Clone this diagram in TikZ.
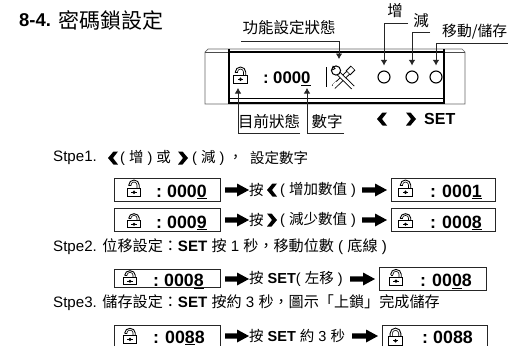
\documentclass[tikz,border=0pt]{standalone}
\usepackage{fontspec}
\usetikzlibrary{arrows.meta}
\setmainfont{Liberation Sans}
\newfontfamily\cjk{Noto Sans CJK TC}
\newcommand{\Z}[1]{{\cjk #1}}
\begin{document}
\begin{tikzpicture}[x=1pt,y=-1pt,line cap=butt,
  lead/.style={draw=black!85,line width=.8pt},
  leadarrow/.style={lead,-{Latex[length=5.5pt,width=6.5pt]}},
  txt/.style={inner sep=0pt,anchor=west,font=\fontsize{14.5}{16}\selectfont},
  steptxt/.style={inner sep=0pt,anchor=west,font=\fontsize{15.1}{17}\selectfont},
  lab/.style={inner sep=0pt,font=\fontsize{15.5}{17}\selectfont\cjk},
  digit/.style={inner sep=0pt,anchor=base west,font=\fontsize{17.8}{18}\selectfont\bfseries},
  paneldigit/.style={inner sep=0pt,anchor=base west,font=\fontsize{16.8}{17}\selectfont\bfseries},
  dbox/.style={draw=black!85,line width=.8pt},
  pics/chevL/.style={code={\fill[black] (-5,0) -- (.5,-6.5) -- (5,-6.5) -- (0,0) -- (5,6.5) -- (.5,6.5) -- cycle;}},
  pics/chevR/.style={code={\fill[black] (5,0) -- (-.5,-6.5) -- (-5,-6.5) -- (0,0) -- (-5,6.5) -- (-.5,6.5) -- cycle;}},
  pics/blockarrow/.style={code={\fill[black] (0,-2.7) -- (#1-12,-2.7) -- (#1-12,-6.5) -- (#1,0) -- (#1-12,6.5) -- (#1-12,2.7) -- (0,2.7) -- cycle;}},
  pics/openlock/.style={code={
    \draw[line width=.9pt] (-6.8,0) rectangle (6.8,8.6);
    \draw[line width=.9pt] (-5.2,-2.2) -- (-5.2,-3) arc (180:360:5.2 and 5) -- (5.2,0);
    \draw[line width=.6pt] (-3,-2.2) -- (-3,-3) arc (180:360:3 and 3) -- (3,0);
    \draw[line width=.7pt] (-5.2,-2.2) -- (-3,-2.2);
    \fill (-2.8,3.9) rectangle (2.8,4.7); \fill (0,2.4) -- (1.6,4.3) -- (0,6.2) -- (-1.6,4.3) -- cycle;
  }},
  pics/shutlock/.style={code={
    \draw[line width=.9pt] (-7.2,0) rectangle (7.2,8.6);
    \draw[line width=.9pt] (-5.4,0) -- (-5.4,-3) arc (180:360:5.4 and 5.4) -- (5.4,0);
    \draw[line width=.6pt] (-3.2,0) -- (-3.2,-3) arc (180:360:3.2 and 3.2) -- (3.2,0);
    \fill (-2.8,3.9) rectangle (2.8,4.7); \fill (0,2.4) -- (1.6,4.3) -- (0,6.2) -- (-1.6,4.3) -- cycle;
  }},
]
\useasboundingbox (0,0) rectangle (508,346);
\fill[white] (0,0) rectangle (508,346);

% title
\node[inner sep=0pt,anchor=west,font=\fontsize{18.5}{20}\selectfont\bfseries] (title) at (19,20) {8-4.};
\node[inner sep=0pt,anchor=west,font=\fontsize{21}{22}\selectfont\cjk] (titlecjk) at (58,20) {密碼鎖設定};

% panel
\draw[line width=.7pt,black!60] (205,104) -- (205,52) -- (208,49) -- (462,49) -- (465,52) -- (465,104) -- cycle;
\draw[line width=.6pt,black!70] (205,52) -- (465,52);
\draw[line width=1.2pt] (229,49) -- (229,104);
\draw[line width=1.2pt] (444,49) -- (444,104);
\draw[line width=1.3pt] (229,52) -- (444,52);
\draw[line width=1.5pt] (229,98.5) -- (444,98.5);
\draw[line width=1.2pt] (229,103) -- (444,103);

\pic at (240.5,75) {openlock};
\node[paneldigit] (colon0) at (263,83.5) {:};
\node[paneldigit] (num0) at (273,83.5) {000\underline{0}};
\draw[line width=1.3pt] (326.5,67) -- (326.5,87);
% tools icon
\begin{scope}[shift={(343,77)}]
  \draw[line width=4.8pt] (9,-8) -- (-9.5,10);
  \draw[white,line width=3pt] (9.6,-8.6) -- (-10,10.5);
  \draw[line width=6.4pt] (5,-4) -- (10,-9);
  \draw[white,line width=4.4pt] (5.5,-4.5) -- (9.5,-8.5);
  \draw[line width=4.6pt] (-6,-5) -- (10,10.5);
  \draw[white,line width=2.8pt] (-6.5,-5.5) -- (10.5,11);
  \draw[line width=1pt,fill=white] (-7,-6.5) circle (4.6);
  \fill[white,rotate=45] (-12.5,-1.8) rectangle (-8,1.8);
  \draw[line width=.9pt] (-10.3,-11) -- (-8,-8.5) -- (-10.8,-7);
\end{scope}
\node[draw,circle,line width=1.1pt,minimum size=12pt,inner sep=0pt] (b1) at (384,77) {};
\node[draw,circle,line width=1.1pt,minimum size=12pt,inner sep=0pt] (b2) at (412,77) {};
\node[draw,circle,line width=1.1pt,minimum size=12pt,inner sep=0pt] (b3) at (436,77) {};

% top labels
\node[lab] (lfunc) at (289,28) {功能設定狀態};
\node[lab] (linc) at (395,11) {增};
\node[lab] (ldec) at (421,21) {減};
\node[lab,anchor=west,font=\fontsize{14.8}{17}\selectfont\cjk] (lmove) at (442,32) {移動/儲存};
\coordinate (funcA) at (241,41); \coordinate (funcB) at (339,41); \coordinate (funcT) at (339,59);
\draw[lead] (funcA) -- (funcB);
\draw[leadarrow] (funcB) -- (funcT);
\coordinate (incA) at (408,23); \coordinate (decA) at (430,32); \coordinate (movA) at (508,43);
\draw[leadarrow] (incA) -| ([yshift=5pt]b1.north);
\draw[leadarrow] (decA) -| ([yshift=5pt]b2.north);
\draw[leadarrow] (movA) -| ([yshift=5pt]b3.north);

% bottom labels
\node[lab] (lstate) at (269,122) {目前狀態};
\node[lab] (lnum) at (327,122) {數字};
\coordinate (stA) at (300,133); \coordinate (stT) at (238,88);
\coordinate (nuA) at (344,133); \coordinate (nuT) at (307,88);
\draw[leadarrow] (stA) -| (stT);
\draw[leadarrow] (nuA) -| (nuT);
\pic at (382,119) {chevL};
\pic at (411,119) {chevR};
\node[txt,font=\fontsize{16}{18}\selectfont\bfseries] (set) at (424,119) {SET};

% step 1
\node[steptxt] (s1) at (53,158) {Stpe1.};
\pic at (113,158) {chevL};
\node[txt] (s1a) at (120,158) {( \Z{增} ) \Z{或}};
\pic at (183,158) {chevR};
\node[txt] (s1b) at (192,158) {( \Z{減} ) \Z{，}};
\node[txt] (s1c) at (250,158) {\Z{設定數字}};

% row 1
\draw[dbox] (114,178) rectangle (220,201);
\pic at (134,188) {openlock};
\node[digit] (c1) at (156,197) {:};
\node[digit] (n1) at (167,197) {000\underline{0}};
\pic at (225,190) {blockarrow=24};
\node[txt] (t1a) at (249,190) {\Z{按}};
\pic at (272,190) {chevL};
\node[txt] (t1b) at (280,190) {( \Z{增加數值} )};
\pic at (362,190) {blockarrow=25};
\draw[dbox] (391,178) rectangle (495,201);
\pic at (405.5,188) {openlock};
\node[digit] (c2) at (430,197) {:};
\node[digit] (n2) at (442,197) {000\underline{1}};

% row 2
\draw[dbox] (114,208) rectangle (220,231);
\pic[yscale=.85] at (134,220.5) {openlock};
\node[digit] (c3) at (156,228) {:};
\node[digit] (n3) at (167,228) {000\underline{9}};
\pic at (225,220) {blockarrow=24};
\node[txt] (t2a) at (249,220) {\Z{按}};
\pic at (272,220) {chevR};
\node[txt] (t2b) at (280,220) {( \Z{減少數值} )};
\pic at (362,220) {blockarrow=25};
\draw[dbox] (391,208) rectangle (495,231);
\pic[yscale=.85] at (405.5,220.5) {openlock};
\node[digit] (c4) at (430,228) {:};
\node[digit] (n4) at (442,228) {000\underline{8}};

% step 2
\node[steptxt] (s2) at (53,247) {Stpe2. \Z{位移設定：}\textbf{SET} \Z{按} 1 \Z{秒，移動位數} ( \Z{底線} )};

% row 3
\draw[dbox] (114,269) rectangle (220,287);
\pic[yscale=.85] at (130,277.5) {openlock};
\node[digit] (c5) at (153,286.5) {:};
\node[digit] (n5) at (164,286.5) {000\underline{8}};
\pic at (225,279) {blockarrow=24};
\node[txt] (t3) at (249,279) {\Z{按} \textbf{SET}( \Z{左移} )};
\pic at (350,279) {blockarrow=25};
\draw[dbox] (379,267) rectangle (486,290);
\pic[yscale=.95] at (396,277) {openlock};
\node[digit] (c6) at (420,286.5) {:};
\node[digit] (n6) at (432,286.5) {00\underline{0}8};

% step 3
\node[steptxt] (s3) at (53,303) {Stpe3. \Z{儲存設定：}\textbf{SET} \Z{按約} 3 \Z{秒，圖示「上鎖」完成儲存}};

% row 4
\draw[dbox] (114,346) -- (114,325) -- (220,325) -- (220,346);
\pic[yscale=.9] at (130,335.5) {openlock};
\node[digit] (c7) at (153,343) {:};
\node[digit] (n7) at (165,343) {00\underline{8}8};
\pic at (225,336) {blockarrow=24};
\node[txt] (t4) at (249,336) {\Z{按} \textbf{SET} \Z{約} 3 \Z{秒}};
\pic at (352,336) {blockarrow=26};
\draw[dbox] (382,346) -- (382,325) -- (487,325) -- (487,346);
\pic at (395.5,336.5) {shutlock};
\node[digit] (c8) at (422,343) {:};
\node[digit] (n8) at (433,343) {0088};
\end{tikzpicture}
\end{document}
